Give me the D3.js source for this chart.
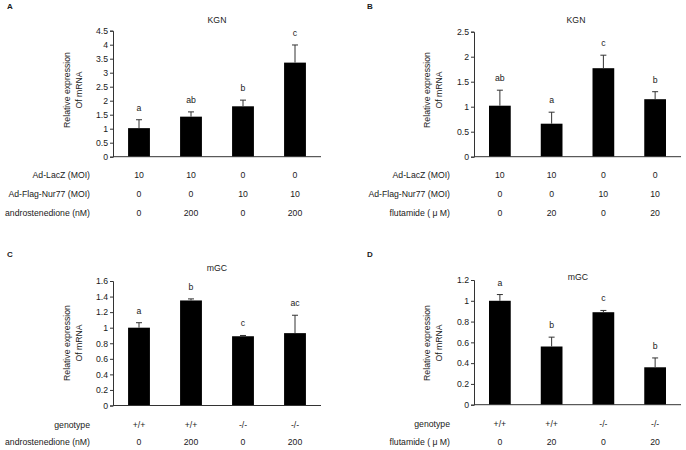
<!DOCTYPE html>
<html>
<head>
<meta charset="utf-8">
<script src="https://cdn.jsdelivr.net/npm/d3@7"></script>
<style>
  body { margin: 0; background: #fff; }
  svg text { font-family: "Liberation Sans", Arial, sans-serif; fill: #1a1a1a; }
  .axis path, .axis line { stroke: #333; }
</style>
</head>
<body>
<div id="chart"></div>
<script>
// values
const groups = ["g1", "g2", "g3", "g4"];

const meanA = [1.02, 1.43, 1.80, 3.36];
const errA = [0.30, 0.17, 0.22, 0.63];
const sigA = ["a", "ab", "b", "c"];
const ticksA = [0, 0.5, 1, 1.5, 2, 2.5, 3, 3.5, 4, 4.5];
const rowLabelsA = ["Ad-LacZ (MOI)", "Ad-Flag-Nur77 (MOI)", "androstenedione (nM)"];
const rowValuesA = [["10", "10", "0", "0"], ["0", "0", "10", "10"], ["0", "200", "0", "200"]];

const meanB = [1.02, 0.66, 1.77, 1.15];
const errB = [0.31, 0.23, 0.26, 0.15];
const sigB = ["ab", "a", "c", "b"];
const ticksB = [0, 0.5, 1, 1.5, 2, 2.5];
const rowLabelsB = ["Ad-LacZ (MOI)", "Ad-Flag-Nur77 (MOI)", "flutamide ( \u03bc M)"];
const rowValuesB = [["10", "10", "0", "0"], ["0", "0", "10", "10"], ["0", "20", "0", "20"]];

const meanC = [1.00, 1.35, 0.89, 0.93];
const errC = [0.064, 0.02, 0.01, 0.23];
const sigC = ["a", "b", "c", "ac"];
const ticksC = [0, 0.2, 0.4, 0.6, 0.8, 1, 1.2, 1.4, 1.6];
const rowLabelsC = ["genotype", "androstenedione (nM)"];
const rowValuesC = [["+/+", "+/+", "-/-", "-/-"], ["0", "200", "0", "200"]];

const meanD = [1.00, 0.56, 0.89, 0.36];
const errD = [0.06, 0.09, 0.017, 0.09];
const sigD = ["a", "b", "c", "b"];
const ticksD = [0, 0.2, 0.4, 0.6, 0.8, 1, 1.2];
const rowLabelsD = ["genotype", "flutamide ( \u03bc M)"];
const rowValuesD = [["+/+", "+/+", "-/-", "-/-"], ["0", "20", "0", "20"]];

const fs = 8.7;

const svg = d3.select("#chart").append("svg")
    .attr("width", 686)
    .attr("height", 450);

function drawPanel(p) {
    const g = svg.append("g");

    let x = d3.scaleBand()
        .domain(groups)
        .range([p.left, p.right])
        .paddingInner(0.58)
        .paddingOuter(0.29);

    let y = d3.scaleLinear()
        .domain([0, d3.max(p.ticks)])
        .range([p.bottom, p.top]);

    // bars
    g.selectAll(".bar")
        .data(p.mean)
        .enter()
        .append("rect")
            .attr("x", (d, i) => x(groups[i]))
            .attr("y", d => y(d))
            .attr("width", x.bandwidth())
            .attr("height", d => y(0) - y(d))
            .attr("fill", "#000");

    // error bars (upper only)
    const cx = i => x(groups[i]) + x.bandwidth() / 2;
    g.selectAll(".err")
        .data(p.err)
        .enter()
        .append("path")
            .attr("d", (d, i) => `M${cx(i)},${y(p.mean[i])}V${y(p.mean[i] + d)}M${cx(i) - 3},${y(p.mean[i] + d)}h6`)
            .attr("stroke", "#333")
            .attr("stroke-width", 1)
            .attr("fill", "none");

    // significance letters
    g.selectAll(".sig")
        .data(p.sig)
        .enter()
        .append("text")
            .attr("x", (d, i) => cx(i))
            .attr("y", (d, i) => y(p.mean[i] + p.err[i]) - 9)
            .attr("text-anchor", "middle")
            .attr("font-size", fs)
            .text(d => d);

    // axes
    g.append("g")
        .attr("class", "axis")
        .attr("transform", `translate(${p.left},0)`)
        .call(d3.axisLeft(y).tickValues(p.ticks).tickSize(3).tickPadding(2)
            .tickFormat(d3.format("")))
        .call(a => a.selectAll("text").attr("font-size", fs).style("font-family", "Liberation Sans, Arial, sans-serif"));

    g.append("line")
        .attr("x1", p.left).attr("x2", p.right)
        .attr("y1", y(0)).attr("y2", y(0))
        .attr("stroke", "#333");

    // titles
    g.append("text")
        .attr("x", p.titleX).attr("y", p.titleY)
        .attr("text-anchor", "middle")
        .attr("dominant-baseline", "central")
        .attr("font-size", fs)
        .text(p.title);

    g.append("text")
        .attr("x", p.letterX).attr("y", p.letterY)
        .attr("dominant-baseline", "central")
        .attr("font-size", 8)
        .attr("font-weight", "bold")
        .text(p.letter);

    // y label, two lines
    ["Relative expression", "Of mRNA"].forEach((t, k) => {
        g.append("text")
            .attr("transform", `translate(${p.ylabX + k * 12},${p.ylabY}) rotate(-90)`)
            .attr("text-anchor", "middle")
            .attr("dominant-baseline", "central")
            .attr("font-size", fs)
            .text(t);
    });

    // condition table under the bars
    p.rowLabels.forEach((lab, r) => {
        const ry = p.rowY[r];
        g.append("text")
            .attr("x", p.rowLabelX).attr("y", ry)
            .attr("text-anchor", "end")
            .attr("dominant-baseline", "central")
            .attr("font-size", fs)
            .text(lab);
        g.selectAll(null)
            .data(p.rowValues[r])
            .enter()
            .append("text")
                .attr("x", (d, i) => cx(i))
                .attr("y", ry)
                .attr("text-anchor", "middle")
                .attr("dominant-baseline", "central")
                .attr("font-size", fs)
                .text(d => d);
    });
}

drawPanel({
    mean: meanA, err: errA, sig: sigA, ticks: ticksA,
    rowLabels: rowLabelsA, rowValues: rowValuesA,
    left: 113, right: 321, top: 30.7, bottom: 156.7,
    title: "KGN", titleX: 217, titleY: 20,
    letter: "A", letterX: 7, letterY: 6,
    ylabX: 67, ylabY: 90,
    rowLabelX: 90, rowY: [175, 194, 213]
});

drawPanel({
    mean: meanB, err: errB, sig: sigB, ticks: ticksB,
    rowLabels: rowLabelsB, rowValues: rowValuesB,
    left: 474, right: 681, top: 31.7, bottom: 156.7,
    title: "KGN", titleX: 576, titleY: 20,
    letter: "B", letterX: 367, letterY: 6,
    ylabX: 427, ylabY: 90,
    rowLabelX: 450, rowY: [175, 194, 213]
});

drawPanel({
    mean: meanC, err: errC, sig: sigC, ticks: ticksC,
    rowLabels: rowLabelsC, rowValues: rowValuesC,
    left: 113, right: 321, top: 281, bottom: 405.5,
    title: "mGC", titleX: 217, titleY: 268,
    letter: "C", letterX: 7, letterY: 254,
    ylabX: 67, ylabY: 343,
    rowLabelX: 90, rowY: [425, 442]
});

drawPanel({
    mean: meanD, err: errD, sig: sigD, ticks: ticksD,
    rowLabels: rowLabelsD, rowValues: rowValuesD,
    left: 474, right: 681, top: 280, bottom: 404.7,
    title: "mGC", titleX: 578, titleY: 277,
    letter: "D", letterX: 367, letterY: 254,
    ylabX: 427, ylabY: 343,
    rowLabelX: 450, rowY: [424, 442]
});
</script>
</body>
</html>
